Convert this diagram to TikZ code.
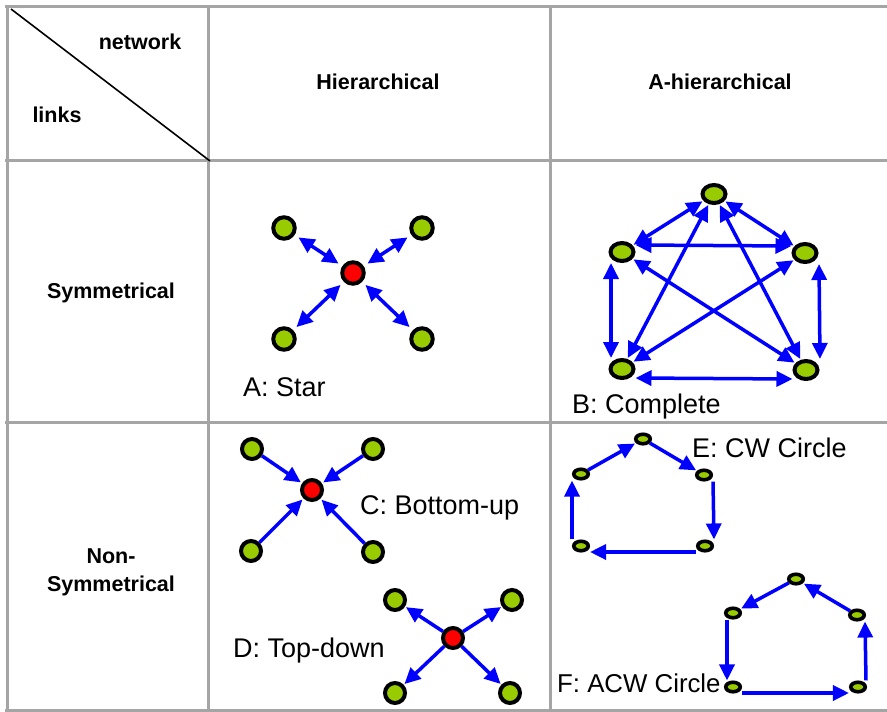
\documentclass[tikz,border=0pt]{standalone}
\usepackage{fontspec}
\setmainfont{Liberation Sans}
\usetikzlibrary{arrows.meta,shapes.geometric}
\definecolor{gridgray}{HTML}{A5A5A5}
\definecolor{nodegreen}{HTML}{99CC00}
\tikzset{
  gridline/.style={draw=gridgray, line width=3pt},
  gnode/.style={circle, draw=black, line width=4pt, fill=nodegreen, minimum size=21.5pt, inner sep=0pt},
  rnode/.style={gnode, fill=red},
  gsmall/.style={gnode, minimum size=20pt},
  rsmall/.style={gsmall, fill=red},
  bnode/.style={ellipse, draw=black, line width=4pt, fill=nodegreen, minimum width=23pt, minimum height=18pt, inner sep=0pt},
  snode/.style={ellipse, draw=black, line width=3.6pt, fill=nodegreen, minimum width=14.5pt, minimum height=9.5pt, inner sep=0pt},
  link/.style={draw=blue, line width=3.5pt, -{Triangle[length=16pt,width=15pt]}},
  dlink/.style={draw=blue, line width=3.5pt, {Triangle[length=16pt,width=15pt]}-{Triangle[length=16pt,width=15pt]}},
  lbl/.style={font=\fontsize{27}{30}\selectfont, inner sep=0pt, anchor=base west},
  hdr/.style={font=\fontsize{21.5}{28}\selectfont\bfseries, align=center, inner sep=0pt}
}
\begin{document}
\begin{tikzpicture}[x=1pt,y=-1pt]
\useasboundingbox (0,0) rectangle (887,712);
% table grid
\draw[gridline] (5,6) -- (887,6);
\draw[gridline] (7,5) -- (7,711);
\draw[gridline] (208,5) -- (208,711);
\draw[gridline] (550,5) -- (550,711);
\draw[gridline] (5,160) -- (887,160);
\draw[gridline] (5,422) -- (887,422);
\draw[gridline] (5,710) -- (887,710);
\coordinate (dgA) at (11,9);
\coordinate (dgB) at (210,161);
\draw[line width=1.6pt] (dgA) -- (dgB);
% headers
\node[hdr] (hnet) at (140,42) {network};
\node[hdr] (hlinks) at (57,115) {links};
\node[hdr] (hhier) at (378,82) {Hierarchical};
\node[hdr] (hahier) at (720,82) {A-hierarchical};
\node[hdr] (hsym) at (111,293) {Symmetrical};
\node[hdr] (hnsym) at (111,572) {Non-\\Symmetrical};
% A: Star
\node[rnode] (a0) at (353,273) {};
\node[gnode] (a1) at (284,228) {};
\node[gnode] (a2) at (422,228) {};
\node[gnode] (a3) at (284,339) {};
\node[gnode] (a4) at (422,339) {};
\foreach \n in {a1,a2,a3,a4}
  \draw[dlink, shorten <=4.5pt, shorten >=4.5pt] (\n) -- (a0);
\node[lbl] (la) at (243,396) {A: Star};
% B: Complete
\node[bnode] (btop) at (714,194) {};
\node[bnode] (bul) at (622,252) {};
\node[bnode] (bur) at (805,253) {};
\node[bnode] (bll) at (622,369) {};
\node[bnode] (blr) at (806,370) {};
\draw[dlink] ([yshift=7pt]bul.east) -- ([yshift=7pt]bur.west);
\draw[dlink] ([xshift=-11pt]bul.south) -- ([xshift=-11pt]bll.north);
\draw[dlink] ([xshift=14pt]bur.south) -- ([xshift=14pt]blr.north);
\draw[dlink] ([yshift=-9pt]bll.east) -- ([yshift=-9pt]blr.west);
\draw[dlink, shorten <=1pt, shorten >=1pt] (btop) -- (bul);
\draw[dlink, shorten <=1pt, shorten >=1pt] (btop) -- (bur);
\draw[dlink, shorten <=1pt, shorten >=1pt] (btop) -- (bll);
\draw[dlink, shorten <=1pt, shorten >=1pt] (btop) -- (blr);
\draw[dlink, shorten <=1pt, shorten >=1pt] (bul) -- (blr);
\draw[dlink, shorten <=1pt, shorten >=1pt] (bur) -- (bll);
\node[lbl] (lb) at (572,413) {B: Complete};
% C: Bottom-up
\node[rsmall] (c0) at (312,490) {};
\node[gsmall] (c1) at (252,449) {};
\node[gsmall] (c2) at (373,449) {};
\node[gsmall] (c3) at (251,551) {};
\node[gsmall] (c4) at (373,552) {};
\foreach \n in {c1,c2,c3,c4}
  \draw[link, shorten >=1.5pt] (\n) -- (c0);
\node[lbl] (lc) at (360,514) {C: Bottom-up};
% D: Top-down
\node[rsmall] (d0) at (453,638) {};
\node[gsmall] (d1) at (395,600) {};
\node[gsmall] (d2) at (512,600) {};
\node[gsmall] (d3) at (395,693) {};
\node[gsmall] (d4) at (510,693) {};
\foreach \n in {d1,d2,d3,d4}
  \draw[link, shorten >=1pt] (d0) -- (\n);
\node[lbl] (ld) at (233,657) {D: Top-down};
% E: CW Circle
\node[snode] (e1) at (643,439) {};
\node[snode] (e2) at (704,475) {};
\node[snode] (e3) at (705,546) {};
\node[snode] (e4) at (581,546) {};
\node[snode] (e5) at (581,474) {};
\draw[link, shorten >=1pt] (e5) -- (e1);
\draw[link, shorten >=1pt] (e1) -- (e2);
\draw[link] ([xshift=9pt]e2.south) -- ([xshift=9pt]e3.north);
\draw[link] ([yshift=-6pt]e3.west) -- ([yshift=-6pt]e4.east);
\draw[link] ([xshift=-9pt]e4.north) -- ([xshift=-9pt]e5.south);
\node[lbl] (le) at (692,457) {E: CW Circle};
% F: ACW Circle
\node[snode] (f1) at (796,579) {};
\node[snode] (f2) at (733,613) {};
\node[snode] (f3) at (733,687) {};
\node[snode] (f4) at (858,687) {};
\node[snode] (f5) at (857,615) {};
\draw[link, shorten >=1pt] (f1) -- (f2);
\draw[link] ([xshift=-6pt]f2.south) -- ([xshift=-6pt]f3.north);
\draw[link] ([yshift=-6pt]f3.east) -- ([yshift=-6pt]f4.west);
\draw[link] ([xshift=8pt]f4.north) -- ([xshift=8pt]f5.south);
\draw[link, shorten >=1pt] (f5) -- (f1);
\node[lbl, font=\fontsize{25.8}{30}\selectfont] (lf) at (557,692) {F: ACW Circle};
\end{tikzpicture}
\end{document}
